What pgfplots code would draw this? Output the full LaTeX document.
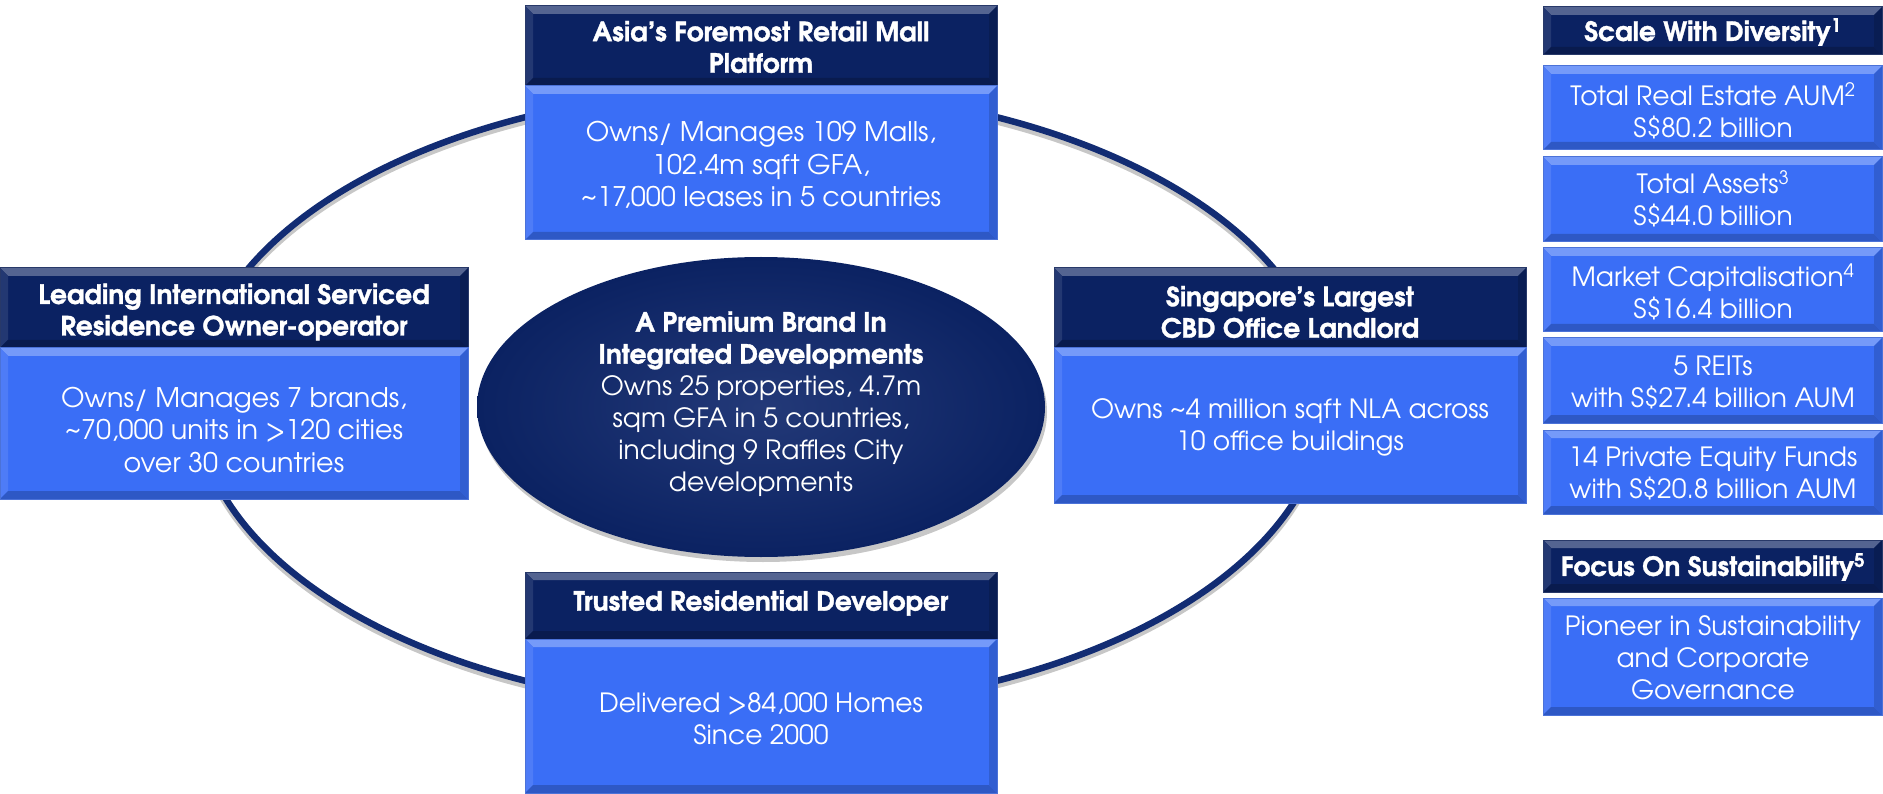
\documentclass[border=0pt]{standalone}
\usepackage{pgfplots}
\pgfplotsset{compat=1.18}
\usepackage{fontspec}
\setmainfont{TeX Gyre Adventor}[BoldFeatures={FakeBold=1.2}]
\definecolor{navy}{RGB}{11,34,98}
\definecolor{bodyblue}{RGB}{58,110,246}
\definecolor{ellnavy}{RGB}{16,40,108}
\definecolor{ringnavy}{RGB}{18,44,115}
\newcommand\bodyfont{\fontsize{27}{32.5}\selectfont}
\newcommand\rbodyfont{\fontsize{26.5}{32}\selectfont}
\newcommand\titlefont{\fontsize{26.5}{31.5}\selectfont\bfseries}
% box: x1,y1,x2,y2,colour (y grows downwards)
\newcommand\bevbox[5]{%
  \addplot[fill=#5, draw=none] coordinates {(#1,#2) (#3,#2) (#3,#4) (#1,#4) (#1,#2)};
  \fill[#5!70!white] (axis cs:#1,#2) -- (axis cs:#3,#2) -- ([xshift=-8pt,yshift=-8pt]axis cs:#3,#2) -- ([xshift=8pt,yshift=-8pt]axis cs:#1,#2) -- cycle;
  \fill[#5!90!white] (axis cs:#1,#2) -- ([xshift=8pt,yshift=-8pt]axis cs:#1,#2) -- ([xshift=8pt,yshift=8pt]axis cs:#1,#4) -- (axis cs:#1,#4) -- cycle;
  \fill[#5!80!black] (axis cs:#1,#4) -- ([xshift=8pt,yshift=8pt]axis cs:#1,#4) -- ([xshift=-8pt,yshift=8pt]axis cs:#3,#4) -- (axis cs:#3,#4) -- cycle;
  \fill[#5!85!black] (axis cs:#3,#2) -- (axis cs:#3,#4) -- ([xshift=-8pt,yshift=8pt]axis cs:#3,#4) -- ([xshift=-8pt,yshift=-8pt]axis cs:#3,#2) -- cycle;
  \draw[#5!75!gray, line width=1pt] (axis cs:#1,#2) rectangle (axis cs:#3,#4);
}
\begin{document}
\begin{tikzpicture}
\path[use as bounding box] (0,0) rectangle (1883pt,794pt);
\begin{axis}[at={(0,0)}, anchor=south west, x=1pt, y=1pt,
  xmin=0, xmax=1883, ymin=0, ymax=794, y dir=reverse,
  hide axis, clip=false]
% ring
\draw[black!22, line width=7pt] (axis cs:761,403) ellipse [x radius=565, y radius=310];
\draw[ringnavy, line width=6.5pt] (axis cs:761,399) ellipse [x radius=565, y radius=310];
% central ellipse
\fill[black!22] (axis cs:763,412) ellipse [x radius=284, y radius=150];
\shade[inner color=ellnavy!92!white, outer color=navy] (axis cs:761,407) ellipse [x radius=284, y radius=150];
% boxes around the ring
\bevbox{525}{6}{997}{86}{navy}
\bevbox{525}{86}{997}{240}{bodyblue}
\bevbox{0}{268}{468}{348}{navy}
\bevbox{0}{348}{468}{499}{bodyblue}
\bevbox{1054}{268}{1526}{348}{navy}
\bevbox{1054}{348}{1526}{503}{bodyblue}
\bevbox{525}{572}{997}{639}{navy}
\bevbox{525}{639}{997}{793}{bodyblue}
% right column
\bevbox{1543}{7}{1882}{55}{navy}
\bevbox{1543}{66}{1882}{150}{bodyblue}
\bevbox{1543}{157}{1882}{242}{bodyblue}
\bevbox{1543}{248}{1882}{332}{bodyblue}
\bevbox{1543}{338}{1882}{423}{bodyblue}
\bevbox{1543}{430}{1882}{514}{bodyblue}
\bevbox{1543}{540}{1882}{592}{navy}
\bevbox{1543}{598}{1882}{715}{bodyblue}
% texts
\tikzset{every node/.style={text=white, align=center, inner sep=0pt}}
\node[font=\titlefont] at (axis cs:761,47) {Asia’s Foremost Retail Mall\\Platform};
\node[font=\bodyfont] at (axis cs:761,165) {Owns/ Manages 109 Malls,\\102.4m sqft GFA,\\\textasciitilde17,000 leases in 5 countries};
\node[font=\titlefont] at (axis cs:234,312) {Leading International Serviced\\Residence Owner-operator};
\node[font=\bodyfont] at (axis cs:234,430) {Owns/ Manages 7 brands,\\\textasciitilde70,000 units in >120 cities\\over 30 countries};
\node[font=\titlefont] at (axis cs:1290,312) {Singapore's Largest\\CBD Office Landlord};
\node[font=\rbodyfont] at (axis cs:1290,427) {Owns \textasciitilde4 million sqft NLA across\\10 office buildings};
\node[font=\titlefont] at (axis cs:761,603) {Trusted Residential Developer};
\node[font=\rbodyfont] at (axis cs:761,719) {Delivered >84,000 Homes\\Since 2000};
\node[font=\rbodyfont] at (axis cs:761,404) {{\titlefont A Premium Brand In}\\{\titlefont Integrated Developments}\\Owns 25 properties, 4.7m\\sqm GFA in 5 countries,\\including 9 Raffles City\\developments};
\node[font=\titlefont] at (axis cs:1713,32) {Scale With Diversity\textsuperscript{1}};
\node[font=\rbodyfont] at (axis cs:1713,111) {Total Real Estate AUM\textsuperscript{2}\\S\$80.2 billion};
\node[font=\rbodyfont] at (axis cs:1713,199) {Total Assets\textsuperscript{3}\\S\$44.0 billion};
\node[font=\rbodyfont] at (axis cs:1713,292) {Market Capitalisation\textsuperscript{4}\\S\$16.4 billion};
\node[font=\rbodyfont] at (axis cs:1713,382) {5 REITs\\with S\$27.4 billion AUM};
\node[font=\rbodyfont] at (axis cs:1713,473) {14 Private Equity Funds\\with S\$20.8 billion AUM};
\node[font=\titlefont] at (axis cs:1713,567) {Focus On Sustainability\textsuperscript{5}};
\node[font=\rbodyfont] at (axis cs:1713,658) {Pioneer in Sustainability\\and Corporate\\Governance};
\end{axis}
\end{tikzpicture}
\end{document}
